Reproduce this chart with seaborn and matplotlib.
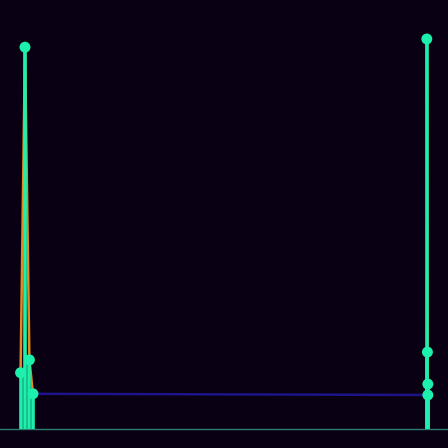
import numpy as np
import pandas as pd
import matplotlib
matplotlib.use("Agg")
import matplotlib.pyplot as plt
import seaborn as sns

# stem positions (days) and heights, left burst then right burst
days = [0.0, 1.05, 2.1, 2.95, 97.0, 97.0, 96.9, 96.75]
values = [14.4, 97.9, 17.7, 9.0, 8.7, 11.5, 19.7, 100.0]
cluster = ["early", "early", "early", "early", "late", "late", "late", "late"]

bg = "#0a0014"
stem_color = "#1cf0ac"
trend_color = "#e08a22"
floor_color = "#1c1488"
base_color = "#2b7d70"

df = pd.DataFrame({"day": days, "value": values, "cluster": cluster})

sns.set_theme(style="dark", rc={"axes.facecolor": bg, "figure.facecolor": bg})

fig = plt.figure(figsize=(4.48, 4.48), dpi=100)
ax = fig.add_axes([0, 0, 1, 1])

# flat link between the two bursts
gap = df.iloc[[3, 4]]
sns.lineplot(data=gap, x="day", y="value", color=floor_color, lw=1.8, sort=False, ax=ax, zorder=1)

# trend line inside each burst
sns.lineplot(data=df, x="day", y="value", hue="cluster", units="cluster", estimator=None,
             palette=[trend_color, trend_color], lw=1.8, sort=False, legend=False, ax=ax, zorder=1)

ax.axhline(0, color=base_color, lw=1, zorder=2)
ax.vlines(df["day"], 0, df["value"], color=stem_color, lw=2.6, zorder=3)
sns.scatterplot(data=df, x="day", y="value", color=stem_color, s=62, edgecolor="none",
                legend=False, ax=ax, zorder=4)

ax.set_xlim(-4.9, 101.8)
ax.set_ylim(-4.9, 110)
ax.set_axis_off()

fig.savefig("out.png", dpi=100, facecolor=bg)
